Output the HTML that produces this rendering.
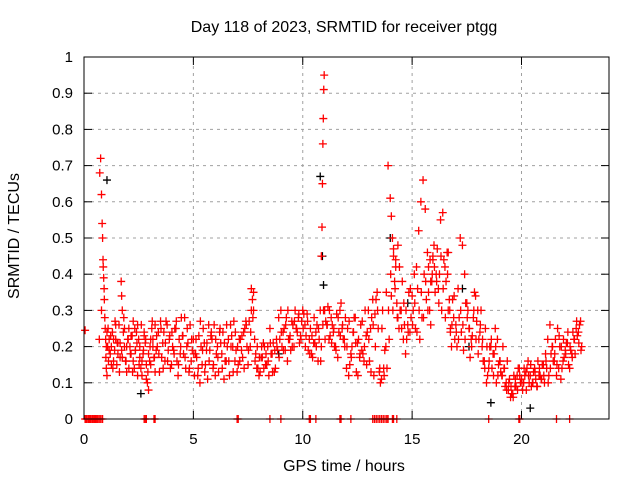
<!DOCTYPE html>
<html><head><meta charset="utf-8"><title>SRMTID ptgg</title>
<style>
html,body{margin:0;padding:0;background:#fff;}
svg{display:block;font-family:"Liberation Sans",sans-serif;}
</style></head>
<body>
<svg id="chart" width="640" height="480" viewBox="0 0 640 480" xmlns="http://www.w3.org/2000/svg">
<text x="344" y="32" font-size="16" text-anchor="middle">Day 118 of 2023, SRMTID for receiver ptgg</text>
<text x="344" y="471" font-size="16" text-anchor="middle">GPS time / hours</text>
<text transform="translate(19,236) rotate(-90)" font-size="16" text-anchor="middle">SRMTID / TECUs</text>
<g id="grid"></g>
<g id="ticks"></g>
<g id="marks"></g>
<rect x="84" y="57" width="525" height="362" fill="none" stroke="#000" stroke-width="1"/>
</svg>
<script>
const xTicks = [0,5,10,15,20];
const yTicks = [0,0.1,0.2,0.3,0.4,0.5,0.6,0.7,0.8,0.9,1];
const yTickLabels = ["0","0.1","0.2","0.3","0.4","0.5","0.6","0.7","0.8","0.9","1"];
const redTimes = [0.05,0.1,0.2,0.3,0.4,0.5,0.6,0.7,0.8,0.72,0.76,0.8,0.83,0.85,0.87,0.88,0.9,0.92,0.93,0.95,0.97,0.99,1.0,1.02,1.05,1.08,1.1,1.15,1.2,1.25,1.3,1.35,1.4,1.45,1.5,1.55,1.6,1.65,1.7,1.72,1.75,1.8,1.85,1.9,1.95,2.0,2.05,2.1,2.15,2.2,2.25,2.3,2.35,2.4,2.45,2.5,2.55,2.6,2.65,2.7,2.75,2.8,2.85,2.9,2.95,3.0,3.05,3.1,3.15,3.2,3.25,3.3,3.4,3.5,3.6,3.7,3.8,3.9,4.0,4.1,4.2,4.3,4.4,4.5,4.6,4.7,4.8,4.9,5.0,5.1,5.2,5.3,5.4,5.5,5.6,5.7,5.8,5.9,6.0,6.1,6.2,6.3,6.4,6.5,6.6,6.7,6.8,6.9,7.0,7.1,7.2,7.3,7.4,7.5,7.6,7.65,7.7,7.75,7.8,7.9,8.0,8.1,8.2,8.3,8.4,8.5,8.6,8.7,8.8,8.9,9.0,9.1,9.2,9.3,9.4,9.5,9.6,9.7,9.8,9.9,10.0,10.1,10.2,10.3,10.4,10.5,10.6,10.7,10.8,10.85,10.88,10.9,10.92,10.94,10.96,10.98,11.0,11.1,11.2,11.3,11.4,11.5,11.6,11.7,11.8,11.9,12.0,12.1,12.2,12.3,12.4,12.5,12.6,12.7,12.8,12.9,13.0,13.1,13.2,13.3,13.4,13.5,13.6,13.7,13.8,13.9,14.0,14.05,14.1,14.15,14.2,14.25,14.3,14.35,14.4,14.5,14.6,14.7,14.8,14.9,15.0,15.1,15.2,15.3,15.4,15.5,15.6,15.7,15.75,15.8,15.85,15.9,15.95,16.0,16.1,16.2,16.3,16.4,16.5,16.6,16.65,16.7,16.75,16.8,16.9,17.0,17.1,17.2,17.3,17.4,17.5,17.6,17.7,17.8,17.9,18.0,18.1,18.2,18.3,18.4,18.5,18.6,18.7,18.8,18.9,19.0,19.1,19.2,19.3,19.4,19.5,19.6,19.7,19.8,19.9,20.0,20.1,20.2,20.3,20.4,20.5,20.6,20.7,20.8,20.9,21.0,21.1,21.2,21.3,21.4,21.5,21.6,21.7,21.8,21.9,22.0,22.1,22.2,22.3,22.4,22.5,22.6,22.7,22.8];
const redValues = [0.245,0,0,0,0,0,0,0.22,0.3,0.68,0.72,0.62,0.54,0.5,0.44,0.42,0.39,0.36,0.33,0.28,0.25,0.22,0.17,0.14,0.12,0.2,0.25,0.22,0.18,0.2,0.24,0.16,0.19,0.22,0.15,0.21,0.26,0.17,0.38,0.34,0.3,0.24,0.2,0.16,0.13,0.22,0.25,0.2,0.18,0.23,0.16,0.14,0.19,0.24,0.26,0.22,0.17,0.14,0.12,0.18,0.23,0.21,0.15,0.1,0.08,0.16,0.22,0.25,0.2,0.17,0.13,0.19,0.24,0.27,0.21,0.16,0.26,0.22,0.15,0.19,0.25,0.12,0.18,0.23,0.28,0.2,0.13,0.16,0.22,0.18,0.12,0.1,0.15,0.21,0.19,0.26,0.23,0.14,0.12,0.2,0.24,0.18,0.11,0.16,0.22,0.26,0.2,0.16,0.13,0.22,0.19,0.24,0.27,0.15,0.2,0.36,0.33,0.3,0.22,0.14,0.12,0.17,0.21,0.15,0.2,0.25,0.18,0.13,0.22,0.28,0.3,0.24,0.19,0.16,0.22,0.27,0.2,0.25,0.28,0.23,0.3,0.26,0.29,0.22,0.18,0.21,0.24,0.16,0.3,0.45,0.53,0.65,0.76,0.83,0.91,0.95,0.3,0.26,0.22,0.28,0.24,0.2,0.17,0.3,0.25,0.22,0.14,0.12,0.18,0.24,0.28,0.21,0.17,0.19,0.16,0.23,0.3,0.25,0.33,0.29,0.35,0.13,0.11,0.14,0.2,0.7,0.61,0.56,0.5,0.47,0.38,0.44,0.32,0.28,0.25,0.3,0.22,0.18,0.26,0.24,0.34,0.4,0.42,0.52,0.6,0.66,0.58,0.46,0.35,0.3,0.26,0.38,0.44,0.48,0.4,0.36,0.55,0.57,0.42,0.46,0.3,0.33,0.24,0.2,0.28,0.26,0.36,0.5,0.48,0.4,0.32,0.25,0.22,0.28,0.34,0.3,0.24,0.2,0.16,0.1,0.14,0.2,0.18,0.25,0.22,0.16,0.12,0.14,0.1,0.08,0.06,0.07,0.09,0.12,0.14,0.11,0.1,0.13,0.16,0.12,0.1,0.14,0.09,0.12,0.11,0.15,0.18,0.22,0.26,0.2,0.16,0.12,0.14,0.11,0.16,0.19,0.21,0.14,0.18,0.22,0.25,0.24,0.27];
const redTimes2 = [1.05,1.15,1.25,1.35,1.45,1.55,1.65,1.75,1.85,1.95,2.05,2.15,2.25,2.35,2.45,2.55,2.65,2.75,2.85,2.95,3.05,3.15,3.25,3.35,3.45,3.55,3.65,3.75,3.85,3.95,4.05,4.15,4.25,4.35,4.45,4.55,4.65,4.75,4.85,4.95,5.05,5.15,5.25,5.35,5.45,5.55,5.65,5.75,5.85,5.95,6.05,6.15,6.25,6.35,6.45,6.55,6.65,6.75,6.85,6.95,7.05,7.15,7.25,7.35,7.45,7.55,7.65,7.75,7.85,7.95,8.05,8.15,8.25,8.35,8.45,8.55,8.65,8.75,8.85,8.95,9.05,9.15,9.25,9.35,9.45,9.55,9.65,9.75,9.85,9.95,10.05,10.15,10.25,10.35,10.45,10.55,10.65,10.75,10.85,10.95,11.05,11.15,11.25,11.35,11.45,11.55,11.65,11.75,11.85,11.95,12.05,12.15,12.25,12.35,12.45,12.55,12.65,12.75,12.85,12.95,13.05,13.15,13.25,13.35,13.45,13.55,13.65,13.75,13.85,13.95,14.05,14.15,14.25,14.35,14.45,14.55,14.65,14.75,14.85,14.95,15.05,15.15,15.25,15.35,15.45,15.55,15.65,15.75,15.85,15.95,16.05,16.15,16.25,16.35,16.45,16.55,16.65,16.75,16.85,16.95,17.05,17.15,17.25,17.35,17.45,17.55,17.65,17.75,17.85,17.95,18.05,18.15,18.25,18.35,18.45,18.55,18.65,18.75,18.85,18.95,19.05,19.15,19.25,19.35,19.45,19.55,19.65,19.75,19.85,19.95,20.05,20.15,20.25,20.35,20.45,20.55,20.65,20.75,20.85,20.95,21.05,21.15,21.25,21.35,21.45,21.55,21.65,21.75,21.85,21.95,22.05,22.15,22.25,22.35,22.45,22.55,22.65,22.75];
const redValues2 = [.24,.19,.15,.22,.26,.18,.21,.17,.25,.2, .14,.23,.27,.19,.12,.2,.16,.24,.11,.18, .15,.22,.26,.2,.13,.17,.24,.27,.19,.14, .2,.25,.16,.22,.28,.18,.14,.21,.26,.19, .12,.17,.23,.2,.25,.15,.11,.19,.22,.26, .18,.13,.21,.24,.16,.2,.12,.23,.27,.19, .15,.22,.17,.25,.2,.27,.3,.35,.18,.14, .13,.17,.2,.15,.12,.18,.21,.14,.19,.22, .2,.25,.28,.22,.19,.26,.3,.24,.21,.27, .29,.23,.19,.25,.17,.21,.26,.22,.2,.3, .27,.31,.23,.26,.2,.29,.24,.32,.22,.28, .25,.15,.2,.28,.13,.22,.26,.18,.3,.24, .16,.28,.12,.33,.25,.1,.3,.19,.14,.22, .34,.45,.42,.48,.3,.38,.26,.22,.35,.28, .3,.25,.36,.22,.28,.4,.33,.42,.38,.45, .35,.47,.4,.3,.44,.38,.46,.25,.33,.22, .2,.28,.24,.19,.32,.3,.17,.23,.35,.27, .22,.3,.16,.25,.12,.2,.14,.18,.1,.15, .13,.2,.09,.16,.11,.07,.12,.09,.14,.1, .08,.12,.14,.1,.09,.13,.11,.16,.12,.15, .1,.14,.12,.18,.16,.22,.25,.2,.14,.17, .21,.15,.19,.24,.18,.23,.26,.2];
const redTimes3 = [1.02,1.12,1.22,1.32,1.42,1.52,1.62,1.72,1.82,1.92,2.02,2.12,2.22,2.32,2.42,2.52,2.62,2.72,2.82,2.92,3.02,3.12,3.22,3.32,3.42,3.52,3.62,3.72,3.82,3.92,4.02,4.12,4.22,4.32,4.42,4.52,4.62,4.72,4.82,4.92,5.02,5.12,5.22,5.32,5.42,5.52,5.62,5.72,5.82,5.92,6.02,6.12,6.22,6.32,6.42,6.52,6.62,6.72,6.82,6.92,7.02,7.12,7.22,7.32,7.42,7.52,7.62,7.72,7.82,7.92,8.02,8.12,8.22,8.32,8.42,8.52,8.62,8.72,8.82,8.92,9.02,9.12,9.22,9.32,9.42,9.52,9.62,9.72,9.82,9.92,10.02,10.12,10.22,10.32,10.42,10.52,10.62,10.72,10.82,10.92,11.02,11.12,11.22,11.32,11.42,11.52,11.62,11.72,11.82,11.92,12.02,12.12,12.22,12.32,12.42,12.52,12.62,12.72,12.82,12.92,13.02,13.12,13.22,13.32,13.42,13.52,13.62,13.72,13.82,13.92,14.02,14.12,14.22,14.32,14.42,14.52,14.62,14.72,14.82,14.92,15.02,15.12,15.22,15.32,15.42,15.52,15.62,15.72,15.82,15.92,16.02,16.12,16.22,16.32,16.42,16.52,16.62,16.72,16.82,16.92,17.02,17.12,17.22,17.32,17.42,17.52,17.62,17.72,17.82,17.92,18.02,18.12,18.22,18.32,18.42,18.52,18.62,18.72,18.82,18.92,19.02,19.12,19.22,19.32,19.42,19.52,19.62,19.72,19.82,19.92,20.02,20.12,20.22,20.32,20.42,20.52,20.62,20.72,20.82,20.92,21.02,21.12,21.22,21.32,21.42,21.52,21.62,21.72,21.82,21.92,22.02,22.12,22.22,22.32,22.42,22.52,22.62,22.72];
const redValues3 = [.2,.16,.23,.14,.27,.21,.13,.19,.28,.16, .22,.18,.13,.25,.21,.15,.26,.19,.22,.13, .2,.27,.17,.23,.18,.25,.14,.21,.16,.23, .24,.18,.27,.15,.2,.23,.17,.25,.14,.22, .18,.22,.14,.27,.19,.13,.21,.16,.24,.15, .22,.17,.25,.14,.21,.26,.16,.2,.13,.24, .2,.16,.23,.14,.26,.19,.24,.28,.16,.2, .17,.2,.14,.18,.16,.21,.13,.19,.2,.17, .24,.19,.26,.3,.23,.2,.27,.25,.29,.22, .25,.2,.27,.18,.23,.28,.2,.25,.16,.26, .22,.26,.3,.21,.25,.19,.28,.23,.26,.2, .2,.27,.17,.24,.21,.12,.18,.27,.2,.15, .22,.13,.26,.2,.3,.14,.25,.12,.35,.3, .4,.3,.36,.28,.42,.25,.32,.3,.24,.36, .26,.32,.24,.3,.35,.28,.38,.3,.44,.4, .42,.38,.32,.45,.36,.28,.4,.3,.26,.34, .24,.22,.3,.26,.22,.28,.25,.2,.3,.22, .18,.26,.22,.14,.2,.16,.22,.12,.2,.12, .16,.12,.14,.08,.1,.09,.06,.11,.08,.12, .1,.14,.08,.12,.15,.1,.13,.09,.14,.11, .12,.16,.1,.14,.2,.18,.15,.23,.2,.22, .18,.24,.2,.17,.22,.27,.21,.19];
const zeroTimes = [0.05,0.12,0.18,0.25,0.32,0.38,0.45,0.52,0.58,0.65,0.72,0.78,0.85,2.75,2.8,2.85,3.2,3.25,7.0,7.05,8.5,9.0,10.3,10.35,10.6,11.7,11.75,12.2,13.2,13.28,13.36,13.44,13.52,13.6,13.68,13.76,13.84,13.9,14.1,14.15,14.3,18.5,19.88,19.92,21.6,22.2];
const blackTimes = [1.05,2.6,8.9,10.8,10.9,10.95,14.0,14.8,17.3,17.6,18.6,20.4];
const blackValues = [0.66,0.07,0.18,0.67,0.45,0.37,0.5,0.32,0.36,0.2,0.045,0.03];

const X0=84,X1=609,Y0=419,Y1=57;
const xScale=t=>X0+(t/24)*(X1-X0);
const yScale=v=>Y0-v*(Y0-Y1);
const NS="http://www.w3.org/2000/svg";
const grid=document.getElementById('grid'),ticks=document.getElementById('ticks'),marks=document.getElementById('marks');
function mk(tag,attrs,parent){const e=document.createElementNS(NS,tag);for(const k in attrs)e.setAttribute(k,attrs[k]);parent.appendChild(e);return e;}
yTicks.forEach((v,i)=>{
  const y=yScale(v);
  if(i>0&&i<yTicks.length-1){const g=mk('line',{x1:X0,x2:X1,y1:y,y2:y,stroke:'#a0a0a0','stroke-dasharray':'3,4','stroke-width':1},grid);
  
  }
  const t1=mk('line',{x1:X0,x2:X0+8,y1:y,y2:y,stroke:'#000'},ticks);
  
  
  mk('line',{x1:X1,x2:X1-8,y1:y,y2:y,stroke:'#000'},ticks);
  const l=mk('text',{x:X0-11,y:y+5,'font-size':15,'text-anchor':'end'},ticks);
  l.textContent=yTickLabels[i];
  
  
});
xTicks.forEach(t=>{
  const x=xScale(t);
  if(t>0){const g=mk('line',{x1:x,x2:x,y1:Y0,y2:Y1,stroke:'#a0a0a0','stroke-dasharray':'3,4','stroke-width':1},grid);
  
  }
  const t1=mk('line',{x1:x,x2:x,y1:Y0,y2:Y0-8,stroke:'#000'},ticks);
  
  
  mk('line',{x1:x,x2:x,y1:Y1,y2:Y1+8,stroke:'#000'},ticks);
  const l=mk('text',{x:x,y:Y0+25,'font-size':15,'text-anchor':'middle'},ticks);
  l.textContent=String(t);
  
  
});
function plus(t,v,color,name){
  const x=xScale(t),y=yScale(v);
  const p=mk('path',{d:`M${x-4},${y}H${x+4}M${x},${y-4}V${y+4}`,stroke:color,'stroke-width':1.3,fill:'none'},marks);
  
  
}
blackTimes.forEach((t,i)=>plus(t,blackValues[i],'#000','black-point'));
redTimes.forEach((t,i)=>plus(t,redValues[i],'#ff0000','red-point'));
redTimes2.forEach((t,i)=>plus(t,redValues2[i],'#ff0000','red-point'));
redTimes3.forEach((t,i)=>plus(t,redValues3[i],'#ff0000','red-point'));
zeroTimes.forEach(t=>plus(t,0,'#ff0000','zero-point'));
</script>
</body></html>
